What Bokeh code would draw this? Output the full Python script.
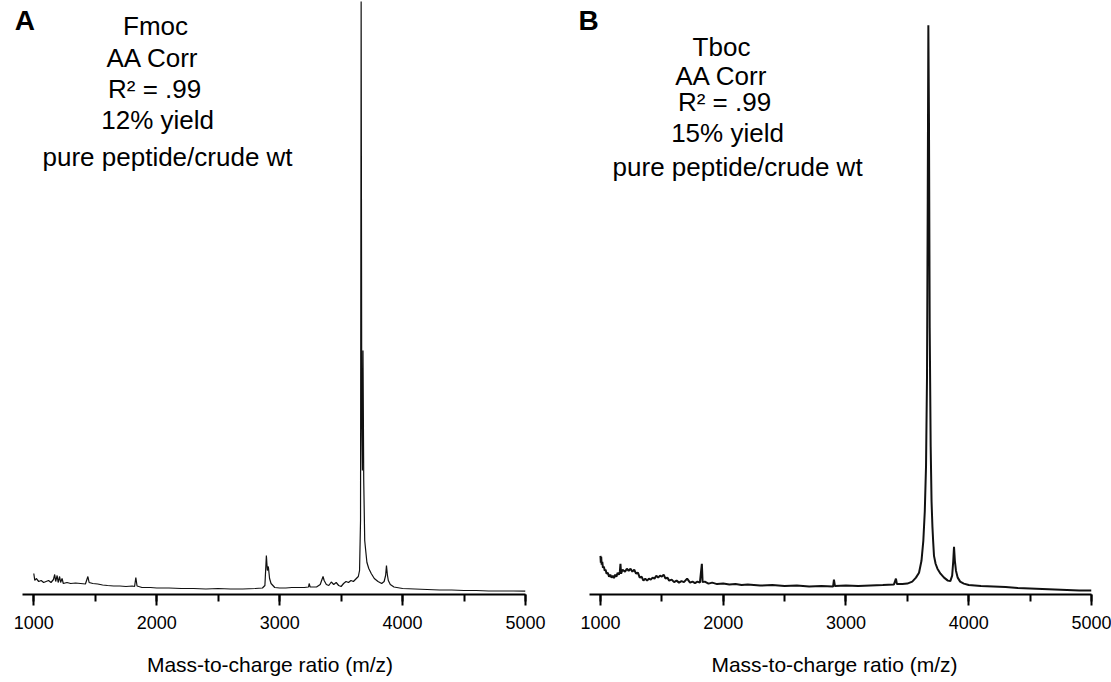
from bokeh.plotting import figure
from bokeh.layouts import row
from bokeh.models import Range1d, SingleIntervalTicker, Label
from bokeh.embed import file_html
from bokeh.resources import INLINE

# ---- data (intensity in arbitrary units) ----
mz_a = [1000, 1008, 1020, 1040, 1060, 1080, 1100, 1120, 1140, 1160, 1170, 1178, 1190, 1198,
        1210, 1218, 1230, 1240, 1270, 1300, 1340, 1380, 1420, 1440, 1450, 1480, 1520, 1560,
        1600, 1650, 1700, 1750, 1800, 1820, 1830, 1840, 1880, 1950, 2000, 2100, 2200, 2300,
        2400, 2500, 2600, 2700, 2800, 2860, 2880, 2892, 2900, 2908, 2918, 2930, 2960, 3000,
        3050, 3100, 3150, 3200, 3235, 3240, 3248, 3300, 3330, 3353, 3362, 3380, 3400, 3420,
        3440, 3460, 3480, 3500, 3520, 3540, 3560, 3580, 3600, 3620, 3640, 3650, 3658, 3663,
        3668, 3673, 3678, 3684, 3692, 3700, 3710, 3725, 3745, 3770, 3800, 3830, 3850, 3862,
        3869, 3876, 3884, 3900, 3930, 4000, 4100, 4200, 4300, 4400, 4500, 4600, 4700, 4800,
        4900, 5000]
int_a = [21, 14, 16, 13, 14, 12, 13, 14, 12, 15, 20, 13, 19, 12,
         18, 12, 16, 11, 12, 11, 11.5, 11, 10.5, 18, 12, 11, 10.5, 9.5,
         9, 8.5, 8.5, 8, 8.5, 8, 17, 8.5, 7, 7, 6.5, 6.5, 6, 6,
         5.5, 6, 5.5, 5.5, 6, 6.5, 9, 39, 24, 28, 16, 11, 7, 6.5,
         6.5, 7, 7, 7, 7.5, 11, 7.5, 7.5, 10, 18, 14, 10, 9, 12.5,
         10, 12, 9, 8, 11, 13, 12, 14, 13, 15.5, 18, 24, 74, 593,
         174, 124, 244, 114, 54, 44, 32, 26, 21, 16, 13, 11, 13, 19,
         29, 20, 14, 10, 7.5, 6, 5.5, 5, 4.5, 4.5, 4, 4, 3.5, 3.5,
         3.5, 3.3]

mz_b = [1000, 1003, 1006, 1010, 1015, 1020, 1028, 1035, 1042, 1050, 1060, 1070, 1080, 1090,
        1100, 1110, 1120, 1130, 1140, 1150, 1158, 1163, 1168, 1180, 1200, 1215, 1230, 1245,
        1260, 1275, 1290, 1305, 1320, 1335, 1350, 1365, 1380, 1395, 1410, 1425, 1440, 1455,
        1470, 1485, 1500, 1515, 1530, 1545, 1560, 1580, 1600, 1620, 1640, 1660, 1680, 1706,
        1730, 1750, 1770, 1790, 1810, 1826, 1832, 1850, 1880, 1910, 1950, 2000, 2050, 2100,
        2150, 2200, 2300, 2400, 2500, 2600, 2700, 2800, 2895, 2902, 2910, 3000, 3100, 3200,
        3300, 3390, 3407, 3415, 3460, 3500, 3540, 3570, 3595, 3615, 3630, 3642, 3652, 3660,
        3666, 3671, 3676, 3682, 3690, 3697, 3704, 3710, 3717, 3730, 3745, 3770, 3799, 3830,
        3850, 3865, 3874, 3880, 3887, 3896, 3910, 3930, 3960, 4000, 4100, 4200, 4300, 4400,
        4500, 4600, 4700, 4800, 4900, 5000]
int_b = [39, 32, 38, 30, 33, 27, 28, 24, 25, 21, 22, 18, 20, 17,
         19, 16.5, 20, 18, 22, 20, 23, 31, 21, 25, 23, 26, 24, 26,
         23, 25, 21, 22, 17, 18, 14, 16, 14, 16, 15, 17, 16, 19,
         17, 19, 18, 20, 16, 17, 14, 15, 12.5, 14, 12, 13.5, 12.5, 16,
         12, 13, 11.5, 13, 12, 31, 12.5, 13, 11, 12, 10.5, 11, 10, 10.5,
         9.5, 10, 9, 9.5, 8.5, 9, 8, 8.5, 8, 15, 8.5, 9, 8.5, 9,
         9.5, 10, 16, 10.5, 10.5, 11, 13, 17, 22, 34, 54, 84, 129, 219,
         399, 574, 479, 269, 149, 94, 69, 54, 39, 31, 26, 21, 17, 14,
         13.5, 19, 34, 48, 34, 24, 17, 13, 11, 9.5, 8.5, 8, 7.5, 6.5,
         6, 5.5, 5, 4.5, 4, 4]

x_ticks_interval = 1000
x_title = "Mass-to-charge ratio (m/z)"
notes_a = ["Fmoc", "AA Corr", "R\u00b2 = .99", "12% yield", "pure peptide/crude wt"]
notes_b = ["Tboc", "AA Corr", "R\u00b2 = .99", "15% yield", "pure peptide/crude wt"]

FONT = "Liberation Sans"


def make_panel(mz, inten, letter, notes, width, height, xstart, bl, br, bb, ytop,
               note_pos, letter_pos, lw):
    p = figure(width=width, height=height, output_backend="svg", toolbar_location=None,
               x_range=Range1d(xstart, 5000), y_range=Range1d(0, ytop),
               y_axis_location=None, min_border_left=bl, min_border_right=br,
               min_border_top=0, min_border_bottom=bb)
    p.outline_line_color = None
    p.grid.visible = False
    p.background_fill_color = "white"
    p.border_fill_color = "white"
    p.line(mz, inten, line_color="#111111", line_width=lw)

    ax = p.xaxis[0]
    ax.bounds = (907, 5000)
    ax.ticker = SingleIntervalTicker(interval=x_ticks_interval, num_minor_ticks=2)
    ax.axis_line_width = 2
    ax.axis_line_color = "black"
    ax.major_tick_line_width = 2
    ax.major_tick_line_color = "black"
    ax.minor_tick_line_width = 2
    ax.minor_tick_line_color = "black"
    ax.major_tick_in = 0
    ax.major_tick_out = 11
    ax.minor_tick_in = 0
    ax.minor_tick_out = 7
    ax.major_label_text_font = FONT
    ax.major_label_text_font_size = "18px"
    ax.major_label_text_color = "black"
    ax.major_label_standoff = 10
    ax.major_label_text_line_height = 1.0
    ax.axis_label = x_title
    ax.axis_label_text_font = FONT
    ax.axis_label_text_font_size = "21px"
    ax.axis_label_text_font_style = "normal"
    ax.axis_label_text_color = "black"
    ax.axis_label_text_line_height = 0.6
    ax.axis_label_standoff = 21

    p.add_layout(Label(x=letter_pos[0], y=letter_pos[1], text=letter,
                       text_font=FONT, text_font_size="28px", text_font_style="bold",
                       text_baseline="middle", text_align="left", text_color="black"))
    for t, (x, y) in zip(notes, note_pos):
        p.add_layout(Label(x=x, y=y, text=t, text_font=FONT, text_font_size="26px",
                           text_baseline="middle", text_align="center",
                           text_color="black"))
    return p


pa = make_panel(mz_a, int_a, "A", notes_a, 560, 682, 843, 14, 35, 88, 594,
                [(1990, 569), (1967, 537), (1983, 506), (2007, 475), (2088, 438)],
                (845, 574), 1.2)
pb = make_panel(mz_b, int_b, "B", notes_b, 551, 682, 813, 17, 20, 83, 599,
                [(1986, 552), (1986, 523), (2011, 497), (2035, 465), (2117, 431)],
                (821, 579), 2.0)

layout = row(pa, pb)
open("out.html", "w").write(file_html(layout, INLINE))
